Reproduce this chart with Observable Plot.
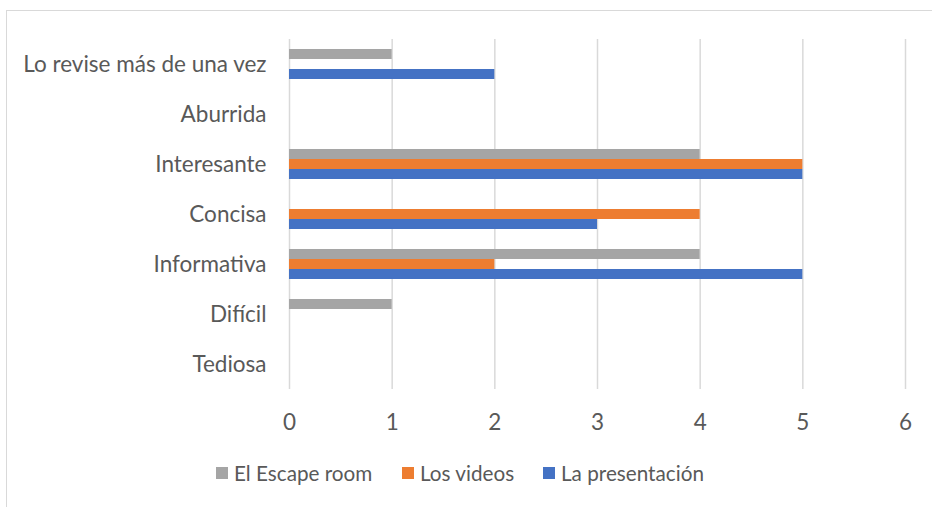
<!DOCTYPE html>
<html>
<head>
<meta charset="utf-8">
<script src="https://cdn.jsdelivr.net/npm/d3@7"></script>
<script src="https://cdn.jsdelivr.net/npm/@observablehq/plot@0.6"></script>
<style>
  html, body { margin: 0; padding: 0; background: #fff; }
  body { width: 932px; height: 507px; position: relative; overflow: hidden; font-family: Lato, "Open Sans", sans-serif; }
  #frame { position: absolute; left: 6px; top: 10px; width: 1000px; height: 600px; border: 1px solid #d9d9d9; box-sizing: border-box; }
  #chart { position: absolute; left: 0; top: 0; }
  #legend { position: absolute; left: 0; top: 460px; width: 932px; height: 26px; font-size: 20.7px; color: #595959; }
  .item { position: absolute; top: 0; display: flex; align-items: center; height: 26px; }
  .sw { width: 12px; height: 12px; margin-right: 6px; }
</style>
</head>
<body>
<div id="frame"></div>
<div id="chart"></div>
<div id="legend"></div>
<script>
const categories = ["Lo revise más de una vez", "Aburrida", "Interesante", "Concisa", "Informativa", "Difícil", "Tediosa"];
const series = ["El Escape room", "Los videos", "La presentación"];
const escapeRoom = [1, 0, 4, 0, 4, 1, 0];
const losVideos = [0, 0, 5, 4, 2, 0, 0];
const laPresentacion = [2, 0, 5, 3, 5, 0, 0];
const xTicks = [0, 1, 2, 3, 4, 5, 6];
const colors = ["#A5A5A5", "#ED7D31", "#4472C4"];

const seriesValues = [escapeRoom, losVideos, laPresentacion];
const data = [];
categories.forEach((c, i) => {
  series.forEach((s, j) => {
    data.push({category: c, series: s, value: seriesValues[j][i]});
  });
});

const chart = Plot.plot({
  width: 932,
  height: 445,
  marginTop: 39,
  marginBottom: 56,
  marginLeft: 289,
  marginRight: 27,
  style: {fontFamily: "Lato, 'Open Sans', sans-serif", fontSize: "22.5px", color: "#595959", background: "transparent"},
  x: {domain: [0, 6], label: null},
  y: {domain: series, paddingInner: 0, paddingOuter: 1, axis: null},
  fy: {domain: categories, padding: 0, label: null},
  color: {domain: series, range: colors},
  marks: [
    Plot.gridX(xTicks, {x: d => d, stroke: "#d9d9d9", strokeOpacity: 1, strokeWidth: 1.5}),
    Plot.barX(data, {x: "value", y: "series", fy: "category", fill: "series", inset: 0}),
    Plot.axisX({ticks: xTicks, tickFormat: d3.format("d"), tickSize: 0, tickPadding: 25, label: null, fill: "#595959"}),
    Plot.axisFy({anchor: "left", tickSize: 0, tickPadding: 23, label: null, fill: "#595959"})
  ]
});
document.getElementById("chart").appendChild(chart);

const legendPos = [216, 402, 543];
const legend = document.getElementById("legend");
series.forEach((s, i) => {
  const item = document.createElement("div");
  item.className = "item";
  item.style.left = legendPos[i] + "px";
  const sw = document.createElement("div");
  sw.className = "sw";
  sw.style.background = colors[i];
  const t = document.createElement("span");
  t.textContent = s;
  item.appendChild(sw);
  item.appendChild(t);
  legend.appendChild(item);
});
</script>
</body>
</html>
